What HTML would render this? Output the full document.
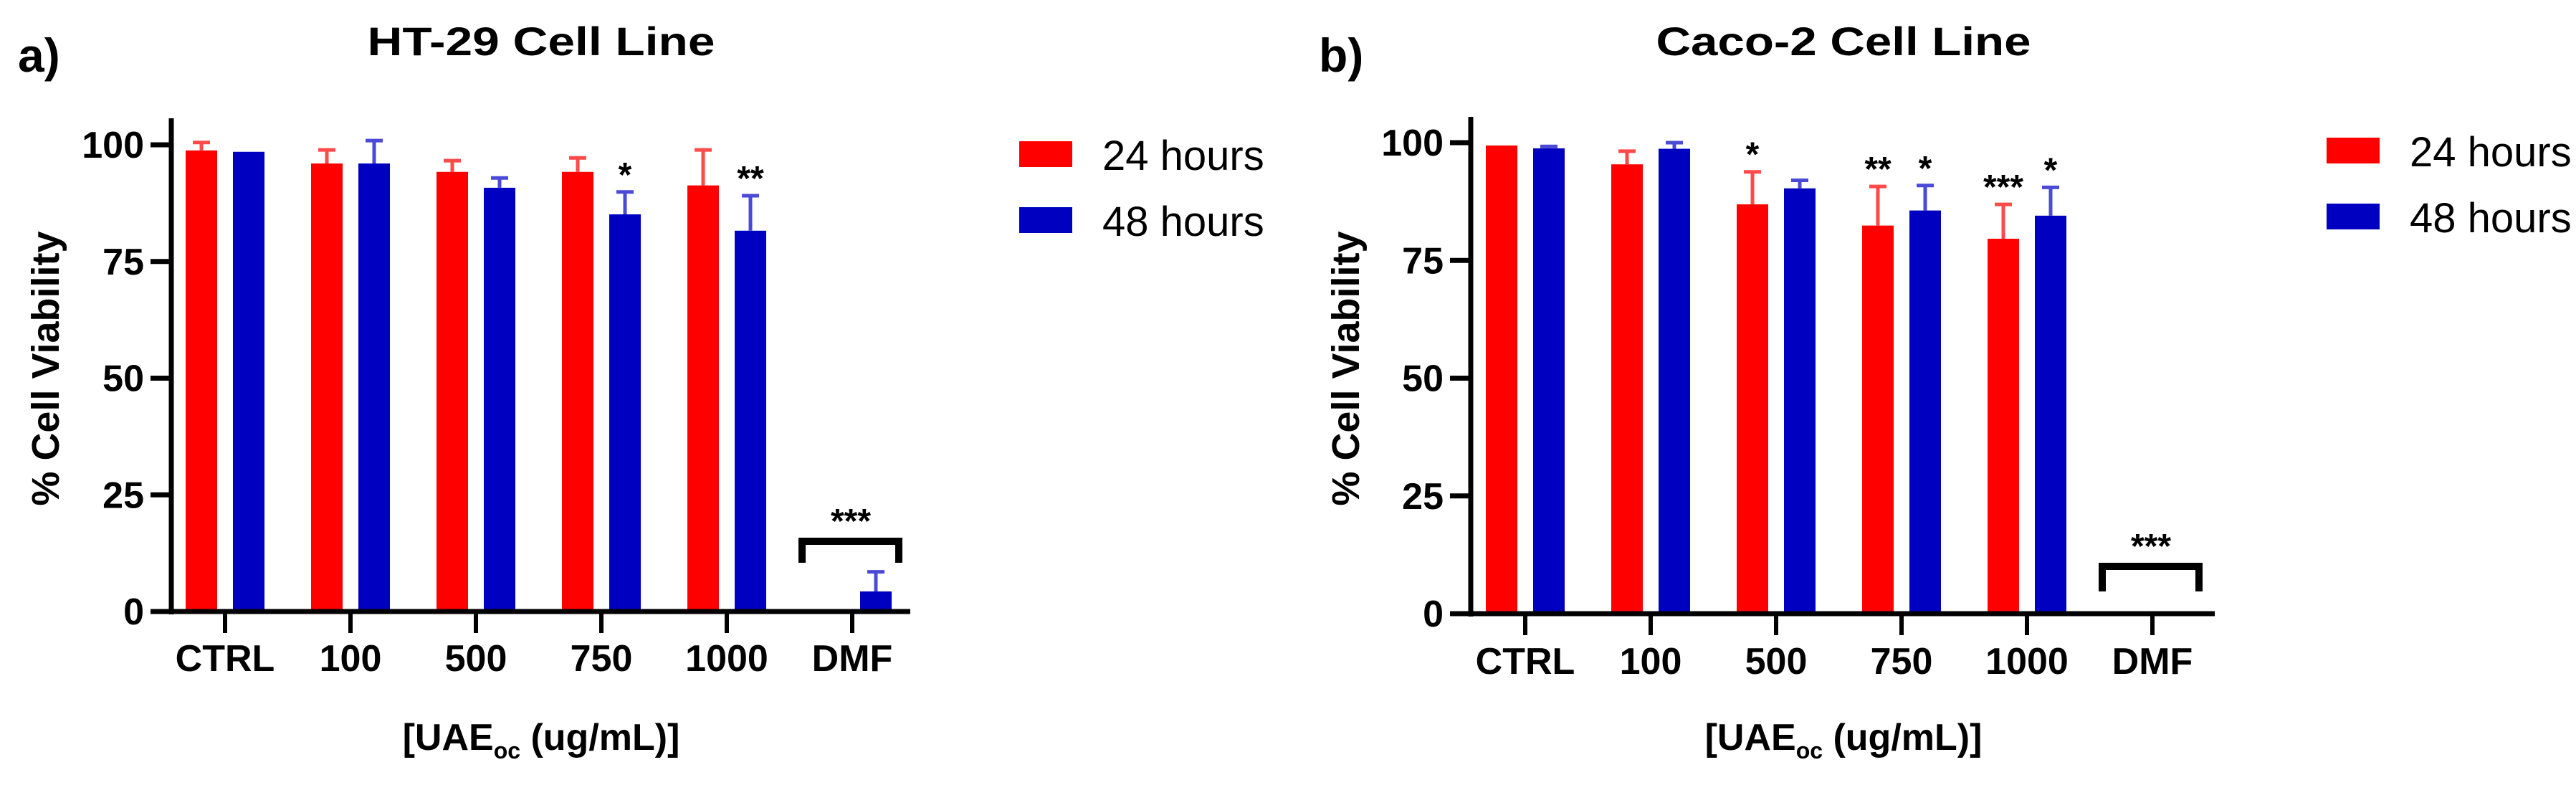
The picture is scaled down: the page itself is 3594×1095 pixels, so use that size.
<!DOCTYPE html>
<html><head><meta charset="utf-8"><style>
html,body{margin:0;padding:0;background:#fff;}
svg{display:block;font-family:"Liberation Sans",Arial,sans-serif;}
</style></head><body>
<svg id="fig" width="3594" height="1095" viewBox="0 0 3594 1095" xmlns="http://www.w3.org/2000/svg">
<text x="25" y="100" font-size="66" font-weight="bold">a)</text>
<text x="1840" y="100" font-size="66" font-weight="bold">b)</text>
<text x="755" y="77" font-size="56" font-weight="bold" text-anchor="middle" textLength="485" lengthAdjust="spacingAndGlyphs">HT-29 Cell Line</text>
<text x="2572" y="77" font-size="56" font-weight="bold" text-anchor="middle" textLength="523" lengthAdjust="spacingAndGlyphs">Caco-2 Cell Line</text>
<g id="pa"></g>
<g id="pb"></g>
</svg>
<script>
const categories = ["CTRL","100","500","750","1000","DMF"];
const yTicks = [0,25,50,75,100];
const seriesNames = ["24 hours","48 hours"];
const htRed = [98.8, 96.0, 94.2, 94.2, 91.3, 0];
const htRedErr = [100.5, 98.9, 96.6, 97.2, 98.9, 0];
const htBlue = [98.5, 96.0, 90.8, 85.1, 81.6, 4.3];
const htBlueErr = [98.6, 100.9, 92.9, 89.9, 89.1, 8.5];
const htRedStars = ["","","","","",""];
const htBlueStars = ["","","","*","**",""];
const cacoRed = [99.4, 95.4, 86.9, 82.4, 79.6, 0];
const cacoRedErr = [99.6, 98.2, 93.8, 90.7, 86.9, 0];
const cacoBlue = [98.8, 98.7, 90.3, 85.6, 84.5, 0];
const cacoBlueErr = [99.2, 100.0, 92.0, 90.9, 90.5, 0];
const cacoRedStars = ["","","*","**","***",""];
const cacoBlueStars = ["","","","*","*",""];

const NS = "http://www.w3.org/2000/svg";
function mk(parent, tag, attrs, text){
  const e = document.createElementNS(NS, tag);
  for (const k in attrs) e.setAttribute(k, attrs[k]);
  if (text !== undefined) e.textContent = text;
  parent.appendChild(e);
  return e;
}
const RED="#ff0000", BLUE="#0000c0", RED_E="#ff4a4a", BLUE_E="#4a4ad6";

function drawPanel(g, cfg){
  const ax = cfg.axisX, y0 = cfg.y0, y100 = cfg.y100;
  const ys = v => y0 - (y0 - y100) * v / 100;
  const xs = i => cfg.firstTick + i * 175;
  const series = [
    {vals: cfg.red, err: cfg.redErr, stars: cfg.redStars, col: RED, ecol: RED_E, off: -33, key: "24h"},
    {vals: cfg.blue, err: cfg.blueErr, stars: cfg.blueStars, col: BLUE, ecol: BLUE_E, off: 33, key: "48h"}
  ];
  series.forEach(s => {
    s.vals.forEach((v, i) => {
      const cx = xs(i) + s.off;
      if (v > 0) {
        const r = mk(g, "rect", {x: cx - 22, y: ys(v), width: 44, height: y0 - ys(v), fill: s.col});
        
        
        const e = s.err[i];
        if (e > v + 0.3) {
          const el = mk(g, "path", {d: `M${cx} ${ys(v)}V${ys(e)}M${cx-12} ${ys(e)}H${cx+12}`, stroke: s.ecol, "stroke-width": 5, fill: "none"});
          
          
        }
      }
      if (s.stars[i]) {
        const top = Math.max(s.err[i], s.vals[i]);
        const t = mk(g, "text", {x: cx, y: ys(top) - 8, "font-size": 48, "font-weight": "bold", "text-anchor": "middle"}, s.stars[i]);
        
        
      }
    });
  });
  const yl = mk(g, "line", {x1: ax, y1: cfg.axisTop, x2: ax, y2: y0 + 4, stroke: "#000", "stroke-width": 7});
  
  
  const xl = mk(g, "line", {x1: ax - 29, y1: y0, x2: cfg.axisRight, y2: y0, stroke: "#000", "stroke-width": 7});
  
  
  yTicks.forEach(v => {
    mk(g, "line", {x1: ax - 29, y1: ys(v), x2: ax, y2: ys(v), stroke: "#000", "stroke-width": 7});
    const t = mk(g, "text", {x: ax - 38, y: ys(v) + 18, "font-size": 52, "font-weight": "bold", "text-anchor": "end"}, String(v));
    
    
  });
  categories.forEach((c, i) => {
    mk(g, "line", {x1: xs(i), y1: y0, x2: xs(i), y2: y0 + 30, stroke: "#000", "stroke-width": 6});
    const t = mk(g, "text", {x: xs(i), y: cfg.tickLabelY, "font-size": 52, "font-weight": "bold", "text-anchor": "middle"}, c);
    
    
  });
  const bx = xs(5);
  const br = mk(g, "path", {d: `M${bx-70} ${cfg.brBot}V${cfg.brTop}H${bx+65}V${cfg.brBot}`, stroke: "#000", "stroke-width": 10, fill: "none"});
  
  
  const bs = mk(g, "text", {x: bx - 2, y: cfg.brTop - 12, "font-size": 48, "font-weight": "bold", "text-anchor": "middle"}, "***");
  
  
  const yt = mk(g, "text", {x: 0, y: 0, "font-size": 54, "font-weight": "bold", "text-anchor": "middle", transform: `translate(${cfg.yTitleX},514) rotate(-90)`}, "% Cell Viability");
  
  
  const xt = mk(g, "text", {x: cfg.xTitleX, y: 1046, "font-size": 52, "font-weight": "bold", "text-anchor": "middle"});
  
  
  mk(xt, "tspan", {}, "[UAE");
  mk(xt, "tspan", {"font-size": 32, dy: 12}, "oc");
  mk(xt, "tspan", {dy: -12}, " (ug/mL)]");
  [[RED, seriesNames[0]], [BLUE, seriesNames[1]]].forEach((l, k) => {
    const sy = cfg.legY + k * 92;
    const sw = mk(g, "rect", {x: cfg.legX, y: sy, width: 74, height: 36, fill: l[0]});
    
    
    const lt = mk(g, "text", {x: cfg.legX + 116, y: sy + 40, "font-size": 58}, l[1]);
    
    
  });
}
drawPanel(document.getElementById("pa"), {axisX: 239, y0: 853, y100: 202, axisTop: 165, axisRight: 1270, firstTick: 314, tickLabelY: 936,
  red: htRed, redErr: htRedErr, blue: htBlue, blueErr: htBlueErr, redStars: htRedStars, blueStars: htBlueStars,
  brTop: 755, brBot: 785, yTitleX: 82, xTitleX: 755, legX: 1422, legY: 197});
drawPanel(document.getElementById("pb"), {axisX: 2052, y0: 856, y100: 199, axisTop: 163, axisRight: 3090, firstTick: 2128, tickLabelY: 940,
  red: cacoRed, redErr: cacoRedErr, blue: cacoBlue, blueErr: cacoBlueErr, redStars: cacoRedStars, blueStars: cacoBlueStars,
  brTop: 790, brBot: 825, yTitleX: 1896, xTitleX: 2572, legX: 3246, legY: 192});
</script>
</body></html>
